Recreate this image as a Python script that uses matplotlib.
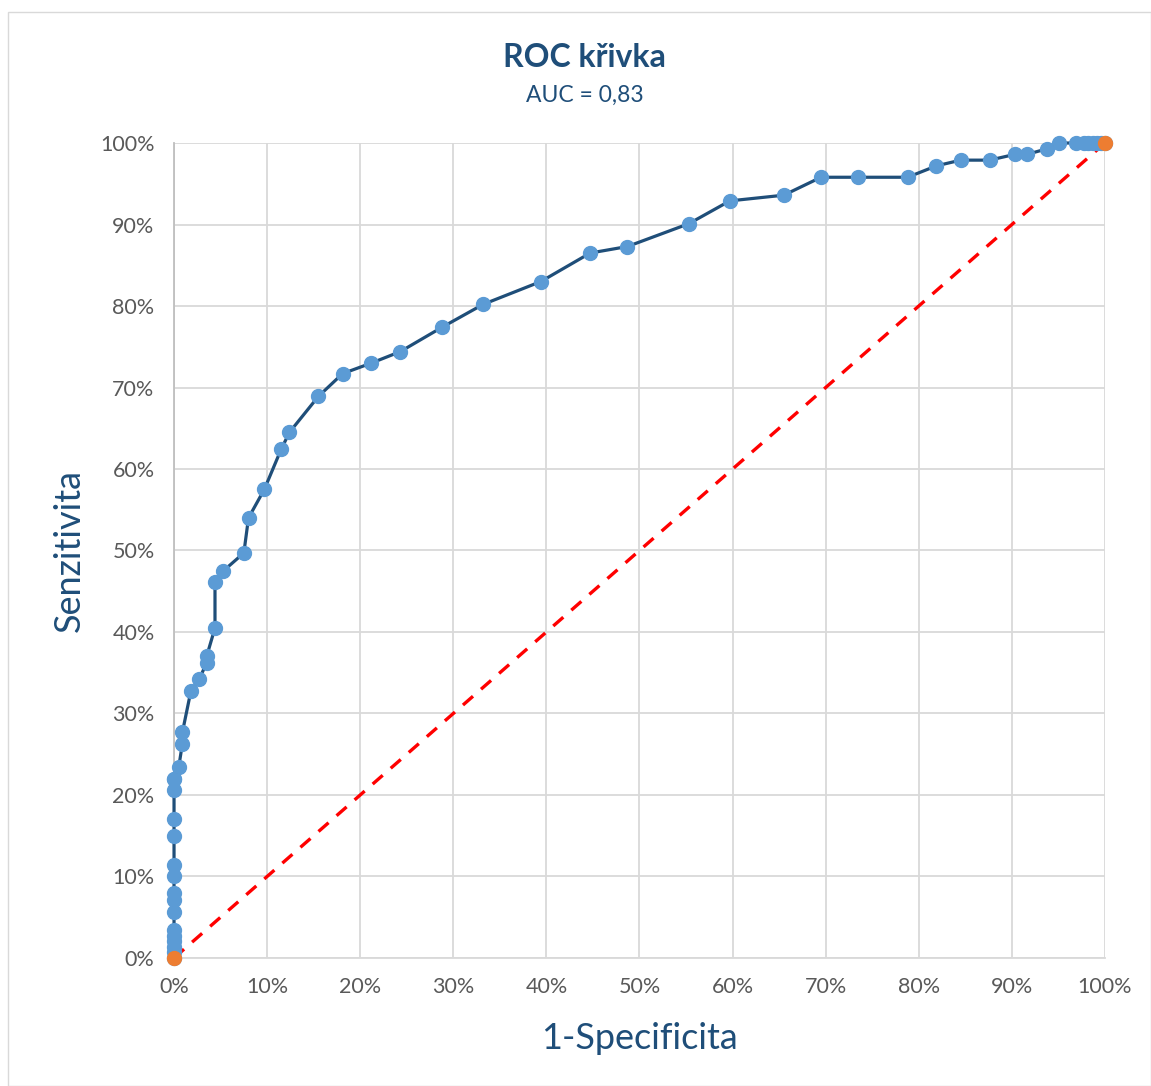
import numpy as np
import matplotlib
matplotlib.use("Agg")
import matplotlib.pyplot as plt
from matplotlib.ticker import PercentFormatter
from matplotlib.patches import Rectangle

plt.rcParams['font.family'] = ['Lato', 'DejaVu Sans']

# ROC points (1-specificity %, sensitivity %)
fpr = [0, 0, 0, 0, 0, 0, 0, 0, 0, 0, 0, 0, 0, 0, 0, 0.5, 0.9, 0.9, 1.8, 2.7,
       3.5, 3.5, 4.4, 4.4, 5.3, 7.5, 8.0, 9.7, 11.5, 12.4, 15.5, 18.1, 21.2,
       24.3, 28.8, 33.2, 39.4, 44.7, 48.7, 55.3, 59.7, 65.5, 69.5, 73.5, 78.8,
       81.9, 84.5, 87.6, 90.3, 91.6, 93.8, 95.1, 96.9, 97.8, 98.2, 98.7, 99.1, 99.6]
tpr = [0.7, 1.4, 2.1, 2.7, 3.4, 5.7, 7.1, 8.0, 10.0, 11.4, 15.0, 17.0, 20.6, 22.0,
       22.0, 23.4, 26.3, 27.7, 32.7, 34.2, 36.2, 37.0, 40.5, 46.1, 47.5, 49.7,
       54.0, 57.5, 62.4, 64.5, 68.9, 71.7, 73.0, 74.4, 77.4, 80.2, 83.0, 86.5,
       87.3, 90.1, 92.9, 93.6, 95.8, 95.8, 95.8, 97.2, 97.9, 97.9, 98.6, 98.6,
       99.3, 100, 100, 100, 100, 100, 100, 100]
end_x = [0, 100]
end_y = [0, 100]

title_col = "#1F4E79"
line_col = "#1F4E79"
dot_col = "#5B9BD5"
end_col = "#ED7D31"

fig = plt.figure(figsize=(11.51, 10.86), dpi=100)
fig.patches.append(Rectangle((0.007, 0.0), 0.993, 0.989, transform=fig.transFigure,
                             fill=False, edgecolor="#D9D9D9", linewidth=1))
ax = fig.add_axes([0.1512, 0.1179, 0.8088, 0.7504])

ax.plot(end_x, end_y, color="#FF0000", linestyle=(0, (4, 3.2)), linewidth=2.4, zorder=2)
ax.plot([0] + fpr + [100], [0] + tpr + [100], color=line_col, linewidth=2.3,
        marker="o", markersize=10, markerfacecolor=dot_col, markeredgecolor=dot_col,
        zorder=3, clip_on=False)
ax.plot(end_x, end_y, linestyle="none", marker="o", markersize=10,
        color=end_col, zorder=4, clip_on=False)

ax.set_xlim(0, 100)
ax.set_ylim(0, 100)
ax.set_xticks(np.arange(0, 101, 10))
ax.set_yticks(np.arange(0, 101, 10))
ax.xaxis.set_major_formatter(PercentFormatter(decimals=0))
ax.yaxis.set_major_formatter(PercentFormatter(decimals=0))
ax.tick_params(length=0, labelsize=15.5, colors="#595959", pad=14)
ax.grid(color="#D9D9D9", linewidth=1.3)
ax.set_axisbelow(True)
for s in ax.spines.values():
    s.set_visible(False)
ax.spines['left'].set_visible(True)
ax.spines['left'].set_color("#BFBFBF")
ax.spines['left'].set_linewidth(1.3)
ax.spines['bottom'].set_visible(True)
ax.spines['bottom'].set_color("#D9D9D9")
ax.spines['bottom'].set_linewidth(1.3)

ax.set_xlabel("1-Specificita", fontsize=26, color=title_col, labelpad=18)
ax.set_ylabel("Senzitivita", fontsize=26, color=title_col, labelpad=10)

fig.text(0.508, 0.947, "ROC křivka", fontsize=23, fontweight="bold", color=title_col,
         ha="center", va="center")
fig.text(0.508, 0.912, "AUC = 0,83", fontsize=16.5, color=title_col, ha="center", va="center")

fig.savefig("out.png", dpi=100)
